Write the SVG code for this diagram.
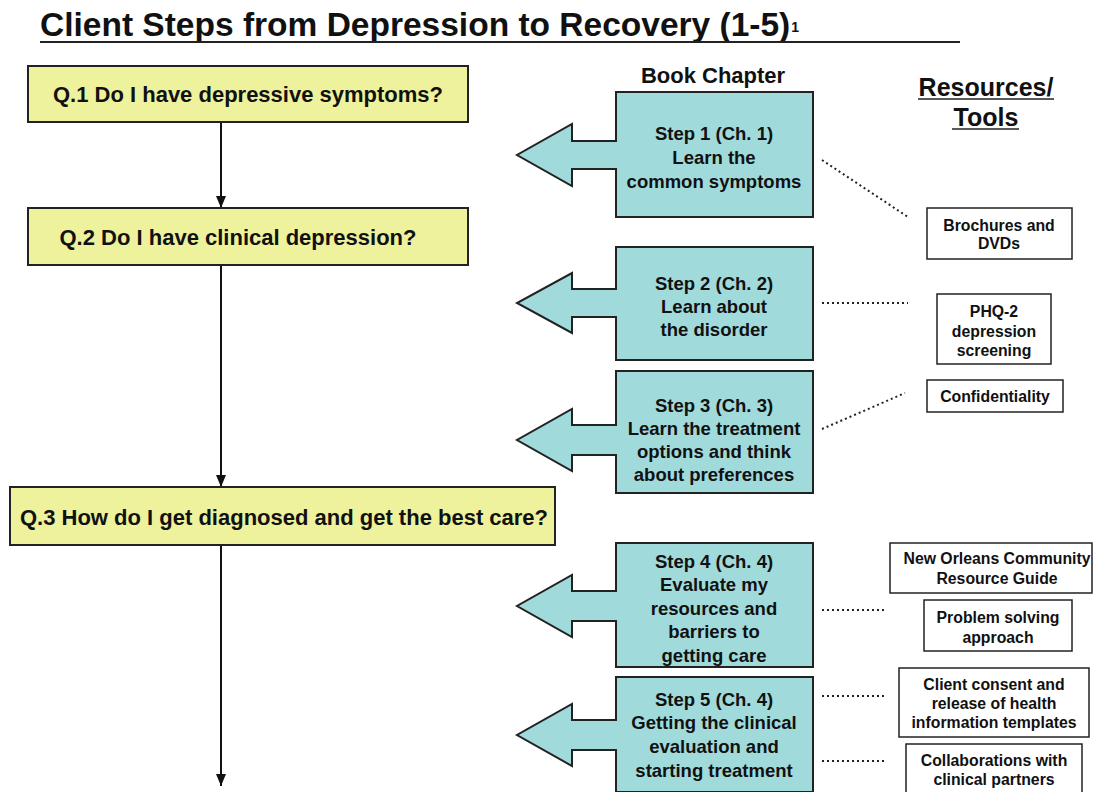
<svg xmlns="http://www.w3.org/2000/svg" width="1095" height="792" viewBox="0 0 1095 792">
  <style>
    text { font-family: "Liberation Sans", Arial, sans-serif; font-weight: bold; fill: #111; text-anchor: middle; }
    .title { font-size: 33.5px; text-anchor: start; }
    .sup { font-size: 14px; text-anchor: start; }
    .head { font-size: 22px; }
    .head2 { font-size: 25px; }
    .q { font-size: 22px; }
    .step { font-size: 18.5px; }
    .res { font-size: 15.8px; }
    .qbox { fill: #EEF29C; stroke: #222; stroke-width: 2; }
    .stepshape { fill: #A1DADB; stroke: #222; stroke-width: 2; stroke-linejoin: miter; }
    .resbox { fill: #fff; stroke: #222; stroke-width: 1.5; }
    .flow { stroke: #111; stroke-width: 2; fill: none; }
    .dots { stroke: #222; stroke-width: 2; stroke-dasharray: 2 3; fill: none; }
  </style>
  <defs>
    <marker id="tri" viewBox="0 0 12 10" refX="12" refY="5" markerWidth="12" markerHeight="10" markerUnits="userSpaceOnUse" orient="auto">
      <path d="M0,0 L12,5 L0,10 Z" fill="#111"/>
    </marker>
  </defs>

  <rect width="1095" height="792" fill="#fff"/>

  <!-- Title -->
  <g id="title">
    <text class="title" x="40" y="36">Client Steps from Depression to Recovery (1-5)<tspan class="sup" dx="1" dy="-4">1</tspan></text>
    <line x1="40" y1="42" x2="960" y2="42" stroke="#222" stroke-width="2.2"/>
  </g>

  <!-- Column headings -->
  <g id="heading-chapter">
    <text class="head" x="713" y="83">Book Chapter</text>
  </g>
  <g id="heading-resources">
    <text class="head2" x="986" y="96">Resources/</text>
    <text class="head2" x="986" y="126">Tools</text>
    <line x1="918" y1="99" x2="1054" y2="99" stroke="#222" stroke-width="1.5"/>
    <line x1="952" y1="129" x2="1019" y2="129" stroke="#222" stroke-width="1.5"/>
  </g>

  <!-- Connectors -->
  <g id="connectors">
    <line class="flow" x1="221" y1="122" x2="221" y2="208" marker-end="url(#tri)"/>
    <line class="flow" x1="221" y1="265" x2="221" y2="487" marker-end="url(#tri)"/>
    <line class="flow" x1="221" y1="545" x2="221" y2="786" marker-end="url(#tri)"/>
    <line class="dots" x1="822" y1="160" x2="908" y2="217"/>
    <line class="dots" x1="822" y1="303" x2="908" y2="303"/>
    <line class="dots" x1="822" y1="429" x2="905" y2="393"/>
    <line class="dots" x1="822" y1="610" x2="886" y2="610"/>
    <line class="dots" x1="822" y1="696" x2="886" y2="696"/>
    <line class="dots" x1="822" y1="761" x2="886" y2="761"/>
  </g>

  <!-- Questions -->
  <g id="q1">
    <rect class="qbox" x="28" y="66" width="440" height="56"/>
    <text class="q" x="248" y="102">Q.1 Do I have depressive symptoms?</text>
  </g>
  <g id="q2">
    <rect class="qbox" x="28" y="208" width="440" height="57"/>
    <text class="q" x="238" y="245">Q.2 Do I have clinical depression?</text>
  </g>
  <g id="q3">
    <rect class="qbox" x="10" y="487" width="545" height="58"/>
    <text class="q" x="284" y="525">Q.3 How do I get diagnosed and get the best care?</text>
  </g>

  <!-- Steps -->
  <g id="step1">
    <path class="stepshape" d="M616,92 H813 V217 H616 V169 H572 V186 L517,155 L572,124 V141 H616 Z"/>
    <text class="step" x="714" y="140">Step 1 (Ch. 1)</text>
    <text class="step" x="714" y="164">Learn the</text>
    <text class="step" x="714" y="188">common symptoms</text>
  </g>
  <g id="step2">
    <path class="stepshape" d="M616,247 H813 V360 H616 V317 H572 V333 L517,303 L572,273 V289 H616 Z"/>
    <text class="step" x="714" y="290">Step 2 (Ch. 2)</text>
    <text class="step" x="714" y="313">Learn about</text>
    <text class="step" x="714" y="336">the disorder</text>
  </g>
  <g id="step3">
    <path class="stepshape" d="M616,371 H813 V493 H616 V455 H572 V471 L517,440 L572,409 V425 H616 Z"/>
    <text class="step" x="714" y="412">Step 3 (Ch. 3)</text>
    <text class="step" x="714" y="435">Learn the treatment</text>
    <text class="step" x="714" y="458">options and think</text>
    <text class="step" x="714" y="481">about preferences</text>
  </g>
  <g id="step4">
    <path class="stepshape" d="M616,543 H813 V667 H616 V621 H572 V637 L517,606 L572,575 V591 H616 Z"/>
    <text class="step" x="714" y="568">Step 4 (Ch. 4)</text>
    <text class="step" x="714" y="591">Evaluate my</text>
    <text class="step" x="714" y="615">resources and</text>
    <text class="step" x="714" y="638">barriers to</text>
    <text class="step" x="714" y="662">getting care</text>
  </g>
  <g id="step5">
    <path class="stepshape" d="M616,677 H813 V792 H616 V750 H572 V766 L517,735 L572,704 V720 H616 Z"/>
    <text class="step" x="714" y="706">Step 5 (Ch. 4)</text>
    <text class="step" x="714" y="729">Getting the clinical</text>
    <text class="step" x="714" y="753">evaluation and</text>
    <text class="step" x="714" y="777">starting treatment</text>
  </g>

  <!-- Resources / Tools -->
  <g id="res-brochures">
    <rect class="resbox" x="927" y="208" width="145" height="51"/>
    <text class="res" x="999" y="231">Brochures and</text>
    <text class="res" x="999" y="249">DVDs</text>
  </g>
  <g id="res-phq2">
    <rect class="resbox" x="937" y="294" width="114" height="70"/>
    <text class="res" x="994" y="317">PHQ-2</text>
    <text class="res" x="994" y="337">depression</text>
    <text class="res" x="994" y="356">screening</text>
  </g>
  <g id="res-confidentiality">
    <rect class="resbox" x="927" y="380" width="136" height="32"/>
    <text class="res" x="995" y="402">Confidentiality</text>
  </g>
  <g id="res-community-guide">
    <rect class="resbox" x="890" y="543" width="202" height="50"/>
    <text class="res" x="997" y="564">New Orleans Community</text>
    <text class="res" x="997" y="584">Resource Guide</text>
  </g>
  <g id="res-problem-solving">
    <rect class="resbox" x="924" y="600" width="148" height="51"/>
    <text class="res" x="998" y="623">Problem solving</text>
    <text class="res" x="998" y="643">approach</text>
  </g>
  <g id="res-consent">
    <rect class="resbox" x="899" y="668" width="190" height="69"/>
    <text class="res" x="994" y="690">Client consent and</text>
    <text class="res" x="994" y="709">release of health</text>
    <text class="res" x="994" y="728">information templates</text>
  </g>
  <g id="res-collaborations">
    <rect class="resbox" x="906" y="744" width="176" height="52"/>
    <text class="res" x="994" y="766">Collaborations with</text>
    <text class="res" x="994" y="785">clinical partners</text>
  </g>
</svg>
